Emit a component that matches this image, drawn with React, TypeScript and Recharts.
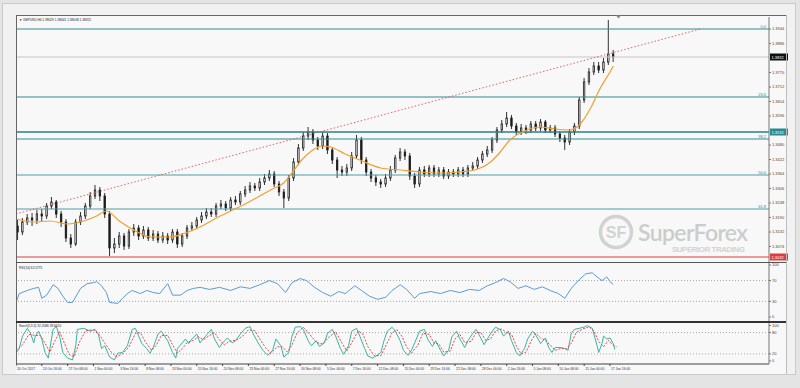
import React from 'react';
import { ComposedChart, Bar, Line, XAxis, YAxis, ReferenceLine } from 'recharts';

const FONT = '"Liberation Sans", Arial, sans-serif';

// H4 bar index of each date label on the time axis
const dateBars = [0, 16, 32, 48, 64, 80, 96, 112, 128, 144, 160, 176, 192, 208, 224, 240, 256, 272, 288, 304, 320, 336, 352, 368];
const dateLabels = [
  '20 Oct 2017', '24 Oct 16:00', '27 Oct 08:00', '1 Nov 00:00', '3 Nov 16:00', '8 Nov 08:00',
  '13 Nov 00:00', '15 Nov 16:00', '20 Nov 08:00', '23 Nov 00:00', '27 Nov 16:00', '30 Nov 08:00',
  '5 Dec 00:00', '7 Dec 16:00', '12 Dec 08:00', '15 Dec 00:00', '19 Dec 16:00', '22 Dec 08:00',
  '28 Dec 00:00', '2 Jan 16:00', '5 Jan 08:00', '10 Jan 08:00', '15 Jan 00:00', '17 Jan 16:00',
];

// each candle covers 3 H4 bars
const CANDLE_STEP = 3;

const opens = [
  1.3156, 1.3132, 1.3172, 1.3188, 1.3180, 1.3204, 1.3196, 1.3236, 1.3252, 1.3204,
  1.3172, 1.3108, 1.3084, 1.3172, 1.3196, 1.3236, 1.3276, 1.3300, 1.3276, 1.3204,
  1.3068, 1.3084, 1.3116, 1.3076, 1.3132, 1.3148, 1.3116, 1.3140, 1.3108, 1.3124,
  1.3100, 1.3116, 1.3100, 1.3132, 1.3084, 1.3116, 1.3148, 1.3156, 1.3180, 1.3196,
  1.3212, 1.3204, 1.3236, 1.3244, 1.3228, 1.3260, 1.3252, 1.3284, 1.3300, 1.3316,
  1.3308, 1.3332, 1.3348, 1.3364, 1.3324, 1.3292, 1.3268, 1.3348, 1.3412, 1.3468,
  1.3516, 1.3532, 1.3500, 1.3476, 1.3516, 1.3460, 1.3420, 1.3380, 1.3372, 1.3388,
  1.3436, 1.3500, 1.3420, 1.3372, 1.3348, 1.3332, 1.3324, 1.3348, 1.3380, 1.3428,
  1.3452, 1.3436, 1.3356, 1.3324, 1.3380, 1.3364, 1.3388, 1.3364, 1.3380, 1.3356,
  1.3372, 1.3364, 1.3380, 1.3364, 1.3388, 1.3396, 1.3420, 1.3444, 1.3460, 1.3500,
  1.3540, 1.3564, 1.3588, 1.3556, 1.3532, 1.3548, 1.3540, 1.3564, 1.3548, 1.3572,
  1.3540, 1.3548, 1.3524, 1.3508, 1.3492, 1.3532, 1.3556, 1.3660, 1.3732, 1.3772,
  1.3796, 1.3780, 1.3812, 1.3844,
];
const highs = [
  1.3180, 1.3188, 1.3204, 1.3208, 1.3220, 1.3224, 1.3248, 1.3272, 1.3260, 1.3216,
  1.3184, 1.3124, 1.3184, 1.3212, 1.3248, 1.3292, 1.3320, 1.3312, 1.3288, 1.3216,
  1.3108, 1.3132, 1.3128, 1.3144, 1.3164, 1.3160, 1.3156, 1.3152, 1.3140, 1.3136,
  1.3132, 1.3128, 1.3144, 1.3144, 1.3128, 1.3160, 1.3172, 1.3192, 1.3212, 1.3228,
  1.3228, 1.3248, 1.3260, 1.3256, 1.3272, 1.3276, 1.3296, 1.3316, 1.3332, 1.3328,
  1.3348, 1.3364, 1.3380, 1.3376, 1.3336, 1.3304, 1.3360, 1.3428, 1.3484, 1.3532,
  1.3552, 1.3544, 1.3512, 1.3532, 1.3528, 1.3472, 1.3432, 1.3396, 1.3404, 1.3452,
  1.3520, 1.3512, 1.3432, 1.3384, 1.3360, 1.3344, 1.3364, 1.3396, 1.3440, 1.3468,
  1.3464, 1.3448, 1.3368, 1.3392, 1.3396, 1.3400, 1.3400, 1.3392, 1.3392, 1.3384,
  1.3384, 1.3392, 1.3392, 1.3400, 1.3412, 1.3432, 1.3456, 1.3476, 1.3512, 1.3552,
  1.3580, 1.3612, 1.3600, 1.3568, 1.3564, 1.3560, 1.3576, 1.3576, 1.3584, 1.3580,
  1.3560, 1.3560, 1.3536, 1.3520, 1.3544, 1.3568, 1.3672, 1.3748, 1.3788, 1.3812,
  1.3812, 1.3828, 1.3980, 1.3860,
];
const lows = [
  1.3100, 1.3120, 1.3160, 1.3156, 1.3164, 1.3172, 1.3184, 1.3224, 1.3188, 1.3152,
  1.3092, 1.3068, 1.3076, 1.3160, 1.3184, 1.3224, 1.3264, 1.3256, 1.3188, 1.3036,
  1.3048, 1.3068, 1.3060, 1.3064, 1.3116, 1.3100, 1.3104, 1.3096, 1.3096, 1.3088,
  1.3088, 1.3084, 1.3088, 1.3068, 1.3072, 1.3104, 1.3136, 1.3144, 1.3168, 1.3184,
  1.3192, 1.3192, 1.3224, 1.3216, 1.3216, 1.3240, 1.3240, 1.3272, 1.3288, 1.3296,
  1.3296, 1.3320, 1.3336, 1.3312, 1.3276, 1.3228, 1.3256, 1.3336, 1.3400, 1.3456,
  1.3500, 1.3484, 1.3460, 1.3464, 1.3444, 1.3404, 1.3348, 1.3356, 1.3356, 1.3376,
  1.3424, 1.3404, 1.3356, 1.3332, 1.3316, 1.3308, 1.3312, 1.3336, 1.3368, 1.3416,
  1.3420, 1.3340, 1.3308, 1.3312, 1.3352, 1.3352, 1.3352, 1.3352, 1.3344, 1.3344,
  1.3352, 1.3352, 1.3352, 1.3352, 1.3376, 1.3384, 1.3408, 1.3432, 1.3448, 1.3488,
  1.3528, 1.3552, 1.3544, 1.3520, 1.3520, 1.3524, 1.3528, 1.3536, 1.3536, 1.3528,
  1.3528, 1.3512, 1.3492, 1.3460, 1.3480, 1.3520, 1.3544, 1.3648, 1.3720, 1.3760,
  1.3768, 1.3768, 1.3800, 1.3812,
];
const closes = [
  1.3132, 1.3172, 1.3188, 1.3180, 1.3204, 1.3196, 1.3236, 1.3252, 1.3204, 1.3172,
  1.3108, 1.3084, 1.3172, 1.3196, 1.3236, 1.3276, 1.3300, 1.3276, 1.3204, 1.3068,
  1.3084, 1.3116, 1.3076, 1.3132, 1.3148, 1.3116, 1.3140, 1.3108, 1.3124, 1.3100,
  1.3116, 1.3100, 1.3132, 1.3084, 1.3116, 1.3148, 1.3156, 1.3180, 1.3196, 1.3212,
  1.3204, 1.3236, 1.3244, 1.3228, 1.3260, 1.3252, 1.3284, 1.3300, 1.3316, 1.3308,
  1.3332, 1.3348, 1.3364, 1.3324, 1.3292, 1.3268, 1.3348, 1.3412, 1.3468, 1.3516,
  1.3532, 1.3500, 1.3476, 1.3516, 1.3460, 1.3420, 1.3380, 1.3372, 1.3388, 1.3436,
  1.3500, 1.3420, 1.3372, 1.3348, 1.3332, 1.3324, 1.3348, 1.3380, 1.3428, 1.3452,
  1.3436, 1.3356, 1.3324, 1.3380, 1.3364, 1.3388, 1.3364, 1.3380, 1.3356, 1.3372,
  1.3364, 1.3380, 1.3364, 1.3388, 1.3396, 1.3420, 1.3444, 1.3460, 1.3500, 1.3540,
  1.3564, 1.3588, 1.3556, 1.3532, 1.3548, 1.3540, 1.3564, 1.3548, 1.3572, 1.3540,
  1.3548, 1.3524, 1.3508, 1.3492, 1.3532, 1.3556, 1.3660, 1.3732, 1.3772, 1.3796,
  1.3780, 1.3812, 1.3844, 1.3832,
];

// moving average [bar, price]
const maPoints = [
  [0, 1.3184], [11, 1.3172], [21, 1.3176], [32, 1.3164], [42, 1.3176], [50, 1.3196], [56, 1.3216],
  [64, 1.3176], [74, 1.3136], [83, 1.3112], [95, 1.3112], [105, 1.3128], [114, 1.3152], [123, 1.3184],
  [133, 1.3216], [142, 1.3244], [151, 1.3276], [159, 1.3304], [165, 1.3324], [171, 1.3368], [177, 1.3420],
  [183, 1.3456], [190, 1.3476], [195, 1.3472], [204, 1.3444], [213, 1.3420], [226, 1.3388], [238, 1.3380],
  [250, 1.3372], [263, 1.3368], [275, 1.3372], [284, 1.3380], [294, 1.3412], [300, 1.3452], [306, 1.3500],
  [315, 1.3536], [325, 1.3552], [334, 1.3544], [343, 1.3540], [349, 1.3560], [356, 1.3628], [362, 1.3708],
  [368, 1.3772], [370, 1.3796],
];

const trendPoints = [[0, 1.3204], [424, 1.3944]];

const priceTicks = [1.3074, 1.3132, 1.3190, 1.3248, 1.3306, 1.3364, 1.3422, 1.3480, 1.3596, 1.3654, 1.3712, 1.3770, 1.3886, 1.3944];
const fibLevels = [1.3944, 1.3672, 1.3504, 1.3360, 1.3224];
const fibNames = ['0.0', '23.6', '38.2', '50.0', '61.8'];
const hLine = 1.3532;
const bidLine = 1.3832;
const redLine = 1.3032;

// RSI(14) [bar, value]
const rsiPoints = [
  [0, 28], [2, 45], [7, 51], [11, 55], [14, 57], [16, 36], [19, 42], [23, 62], [26, 55], [29, 40],
  [32, 28], [35, 28], [40, 55], [44, 64], [48, 66], [50, 68], [53, 60], [56, 47], [58, 28], [63, 26],
  [66, 36], [69, 45], [72, 51], [77, 45], [81, 51], [85, 47], [89, 45], [94, 64], [97, 42], [102, 42],
  [106, 51], [110, 55], [114, 57], [120, 53], [126, 57], [133, 51], [139, 58], [145, 55], [151, 62], [157, 70],
  [162, 64], [167, 47], [171, 66], [176, 74], [180, 70], [185, 57], [190, 47], [195, 40], [200, 49], [204, 45],
  [210, 60], [214, 51], [219, 40], [224, 34], [229, 38], [233, 51], [238, 62], [242, 53], [247, 36], [250, 45],
  [257, 49], [263, 45], [269, 51], [275, 47], [281, 53], [287, 51], [292, 60], [297, 66], [302, 74], [306, 68],
  [311, 55], [316, 60], [321, 53], [326, 58], [331, 51], [336, 45], [340, 36], [344, 55], [349, 72], [353, 83],
  [357, 85], [360, 77], [363, 70], [366, 77], [368, 68], [370, 63],
];
const rsiTicks = [0, 30, 70, 100];
const rsiLevels = [30, 70];

// Stochastic(5,3,3) main and signal [bar, value]
const stochMain = [
  [0, 22], [2, 35], [4, 70], [7, 92], [9, 78], [11, 51], [12, 70], [14, 84], [16, 62], [18, 24], [20, 8], [21, 35],
  [23, 89], [25, 97], [27, 70], [29, 24], [32, 8], [35, 3], [37, 43], [38, 89], [42, 92], [46, 84], [49, 89], [51, 76],
  [53, 35], [55, 43], [58, 11], [61, 3], [63, 22], [66, 24], [69, 43], [72, 89], [74, 92], [76, 70], [78, 49], [81, 35],
  [83, 22], [85, 38], [88, 76], [90, 84], [94, 57], [97, 24], [99, 8], [100, 35], [103, 51], [105, 62], [107, 49], [109, 62],
  [112, 76], [114, 51], [116, 62], [119, 78], [121, 89], [123, 62], [126, 38], [128, 51], [131, 65], [134, 51], [136, 57],
  [139, 76], [142, 92], [145, 97], [147, 76], [150, 51], [153, 30], [156, 16], [159, 30], [161, 62], [164, 43], [166, 11],
  [169, 24], [171, 70], [173, 95], [176, 97], [178, 89], [181, 57], [183, 43], [186, 57], [188, 41], [191, 51], [193, 78],
  [196, 89], [198, 70], [201, 35], [203, 19], [206, 43], [208, 84], [211, 92], [213, 70], [216, 35], [218, 14], [221, 8],
  [223, 14], [226, 24], [228, 57], [230, 84], [233, 95], [235, 84], [238, 57], [240, 30], [243, 16], [245, 30], [248, 62],
  [250, 84], [253, 89], [255, 62], [258, 41], [260, 57], [263, 30], [265, 14], [268, 30], [270, 68], [273, 84], [275, 62],
  [278, 38], [280, 57], [283, 78], [285, 89], [287, 73], [290, 46], [292, 62], [295, 84], [297, 95], [300, 89], [302, 70],
  [305, 84], [307, 57], [310, 24], [312, 14], [315, 35], [317, 62], [320, 84], [322, 73], [325, 49], [328, 65], [330, 38],
  [332, 24], [334, 38], [337, 38], [340, 35], [342, 30], [344, 78], [346, 89], [349, 92], [353, 97], [354, 100], [357, 92],
  [358, 76], [360, 43], [361, 24], [363, 49], [364, 70], [366, 62], [368, 65], [370, 49], [371, 32],
];
const stochSignal = [
  [0, 30], [4, 45], [8, 75], [12, 72], [15, 72], [18, 50], [21, 25], [24, 55], [27, 82], [30, 50], [33, 18], [36, 12],
  [39, 50], [43, 85], [48, 88], [52, 72], [55, 50], [59, 25], [62, 12], [66, 20], [70, 40], [74, 78], [77, 80], [80, 55],
  [84, 30], [87, 45], [90, 72], [94, 72], [97, 45], [100, 22], [103, 35], [106, 52], [110, 58], [113, 68], [116, 60],
  [120, 72], [123, 80], [126, 60], [129, 45], [132, 55], [136, 58], [140, 68], [144, 88], [148, 85], [151, 62], [155, 35],
  [158, 22], [162, 40], [165, 40], [168, 25], [171, 45], [174, 78], [178, 95], [182, 75], [186, 52], [190, 48], [194, 68],
  [198, 82], [202, 50], [205, 28], [209, 60], [212, 85], [215, 75], [218, 40], [222, 15], [226, 15], [229, 42], [233, 80],
  [236, 88], [239, 70], [242, 40], [245, 22], [249, 45], [252, 78], [256, 75], [259, 50], [262, 48], [265, 25], [269, 28],
  [272, 62], [275, 75], [278, 52], [282, 55], [285, 80], [288, 80], [291, 58], [294, 62], [297, 85], [301, 90], [304, 80],
  [307, 75], [310, 42], [313, 20], [316, 25], [319, 55], [322, 78], [325, 65], [328, 58], [331, 45], [334, 30], [338, 36],
  [341, 34], [344, 50], [347, 80], [351, 90], [355, 96], [358, 85], [361, 55], [364, 40], [367, 58], [370, 45], [372, 40],
];
const stochTicks = [0, 20, 80, 100];
const stochLevels = [20, 80];

const candles = opens.map((open, i) => ({
  bar: i * CANDLE_STEP + 1,
  open,
  high: highs[i],
  low: lows[i],
  close: closes[i],
}));
const toRows = (pts) => pts.map(([bar, value]) => ({ bar, value }));
const maData = toRows(maPoints);
const trendData = toRows(trendPoints);
const rsiData = toRows(rsiPoints);
const stochMainData = toRows(stochMain);
const stochSignalData = toRows(stochSignal);

const X_DOMAIN = [0, 466.5];
const TICK = { fontSize: 4, fill: '#444' };

const Candle = (props) => {
  const { x, y, width, height, payload } = props;
  if (x == null || !payload) return null;
  const { open, close, high, low } = payload;
  const k = high > low ? height / (high - low) : 0;
  const yo = y + (high - open) * k;
  const yc = y + (high - close) * k;
  const top = Math.min(yo, yc);
  const h = Math.max(Math.abs(yo - yc), 1);
  const cx = x + width / 2;
  const up = close >= open;
  return (
    <g>
      <line x1={cx} x2={cx} y1={y} y2={y + height} stroke="#1c1c1c" strokeWidth={0.9} />
      <rect x={x} y={top} width={width} height={h} fill={up ? '#f4f4f4' : '#1c1c1c'} stroke="#1c1c1c" strokeWidth={0.8} />
    </g>
  );
};

const AxisTag = (props) => {
  const { viewBox, text, bg } = props;
  if (!viewBox) return null;
  const x = viewBox.x + viewBox.width;
  const y = viewBox.y;
  return (
    <g>
      <rect x={x + 1} y={y - 3.5} width={18} height={7} fill={bg} />
      <text x={x + 2.5} y={y + 1.5} fontSize={4} fill="#fff">{text}</text>
    </g>
  );
};

const FibTag = (props) => {
  const { viewBox, text } = props;
  if (!viewBox) return null;
  return (
    <text x={viewBox.x + viewBox.width - 3} y={viewBox.y - 1.5} textAnchor="end" fontSize={4} fill="#2e8a8f">
      {text}
    </text>
  );
};

const DateTick = (props) => {
  const { x, y, payload } = props;
  const i = dateBars.indexOf(payload.value);
  return (
    <text x={x + 1} y={y + 2.5} fontSize={3.3} fill="#333" textAnchor="start">
      {dateLabels[i]}
    </text>
  );
};

const noMargin = { top: 0, right: 0, bottom: 0, left: 0 };
const padTop = { top: 3, right: 0, bottom: 0, left: 0 };

const App = () => {
  return (
    <div style={{ position: 'absolute', left: 0, top: 0, width: 800, height: 388, background: '#e4e4e4', overflow: 'hidden', fontFamily: FONT }}>
      <div style={{ position: 'absolute', left: 2, top: 3, width: 794, height: 372, background: '#f1f1f1', border: '1px solid #cacaca', boxSizing: 'border-box' }} />
      <div style={{ position: 'absolute', left: 16, top: 15, width: 770, height: 359, background: '#f8f8f8' }} />

      <svg width={800} height={388} style={{ position: 'absolute', left: 0, top: 0 }}>
        <circle cx={616} cy={232} r={15.5} fill="none" stroke="#d2d2d2" strokeWidth={3.5} />
        <text x={616} y={238} textAnchor="middle" fontSize={16} fontWeight={700} fill="#d2d2d2">SF</text>
        <text x={638} y={241} fontSize={23} fontWeight={600} fill="#cccccc" fontFamily="Lato, 'Open Sans', sans-serif" textLength={110}>SuperForex</text>
        <text x={672} y={251.5} fontSize={8} fontWeight={700} fill="#d3d3d3" textLength={73}>SUPERIOR TRADING</text>
      </svg>

      <div style={{ position: 'absolute', left: 16, top: 17 }}>
        <ComposedChart width={774} height={245} data={candles} margin={noMargin}>
          <XAxis type="number" dataKey="bar" domain={X_DOMAIN} allowDataOverflow hide />
          <YAxis
            orientation="right"
            domain={[1.3012, 1.3992]}
            allowDataOverflow
            ticks={priceTicks}
            interval={0}
            width={21}
            tickSize={2}
            tickMargin={1}
            tickFormatter={(v) => v.toFixed(4)}
            tick={TICK}
            axisLine={{ stroke: '#777' }}
            tickLine={{ stroke: '#777' }}
          />
          {fibLevels.map((lv, i) => (
            <ReferenceLine key={lv} y={lv} stroke={i < 3 ? '#2e8a8f' : '#4a9ea6'} strokeWidth={1.2} label={<FibTag text={fibNames[i]} />} />
          ))}
          <ReferenceLine y={hLine} stroke="#2a8086" strokeWidth={1.4} label={<AxisTag text={hLine.toFixed(4)} bg="#2a8a8f" />} />
          <ReferenceLine y={bidLine} stroke="#c6c6c6" strokeWidth={1} label={<AxisTag text={bidLine.toFixed(4)} bg="#111" />} />
          <ReferenceLine y={redLine} stroke="#e03c3c" strokeWidth={1.2} label={<AxisTag text={redLine.toFixed(4)} bg="#e03c3c" />} />
          <Line data={trendData} dataKey="value" stroke="#d9534f" strokeWidth={0.9} strokeDasharray="1.5 2" dot={false} isAnimationActive={false} />
          <Bar dataKey={(d) => [d.low, d.high]} barSize={3} shape={<Candle />} isAnimationActive={false} />
          <Line data={maData} dataKey="value" type="monotone" stroke="#f0a030" strokeWidth={1.2} dot={false} isAnimationActive={false} />
        </ComposedChart>
      </div>

      <div style={{ position: 'absolute', left: 16, top: 260 }}>
        <ComposedChart width={774} height={61} data={rsiData} margin={padTop}>
          <XAxis type="number" dataKey="bar" domain={X_DOMAIN} allowDataOverflow hide />
          <YAxis
            orientation="right"
            domain={[-7.7, 103.8]}
            allowDataOverflow
            ticks={rsiTicks}
            interval={0}
            width={21}
            tickSize={2}
            tickMargin={1}
            tick={TICK}
            axisLine={{ stroke: '#777' }}
            tickLine={{ stroke: '#777' }}
          />
          {rsiLevels.map((lv) => (
            <ReferenceLine key={lv} y={lv} stroke="#a8a8a8" strokeDasharray="1 2" />
          ))}
          <Line dataKey="value" stroke="#5b9bd5" strokeWidth={1} dot={false} isAnimationActive={false} />
        </ComposedChart>
      </div>

      <div style={{ position: 'absolute', left: 16, top: 320 }}>
        <ComposedChart width={774} height={54} data={stochMainData} margin={padTop}>
          <XAxis
            type="number"
            dataKey="bar"
            domain={X_DOMAIN}
            allowDataOverflow
            ticks={dateBars}
            interval={0}
            height={10}
            tickSize={2}
            tickMargin={1}
            tick={<DateTick />}
            axisLine={{ stroke: '#444' }}
            tickLine={{ stroke: '#444' }}
          />
          <YAxis
            orientation="right"
            domain={[-8.5, 107]}
            allowDataOverflow
            ticks={stochTicks}
            interval={0}
            width={21}
            tickSize={2}
            tickMargin={1}
            tick={TICK}
            axisLine={{ stroke: '#777' }}
            tickLine={{ stroke: '#777' }}
          />
          {stochLevels.map((lv) => (
            <ReferenceLine key={lv} y={lv} stroke="#a8a8a8" strokeDasharray="1 2" />
          ))}
          <Line dataKey="value" stroke="#3cb3a3" strokeWidth={1} dot={false} isAnimationActive={false} />
          <Line data={stochSignalData} dataKey="value" stroke="#e04848" strokeWidth={1} strokeDasharray="2 1.5" dot={false} isAnimationActive={false} />
        </ComposedChart>
      </div>

      <svg width={800} height={388} style={{ position: 'absolute', left: 0, top: 0, pointerEvents: 'none' }}>
        <line x1={16} y1={15.5} x2={786} y2={15.5} stroke="#666" />
        <line x1={16.5} y1={15} x2={16.5} y2={365} stroke="#666" />
        <line x1={16} y1={262.5} x2={786} y2={262.5} stroke="#555" />
        <rect x={16} y={321} width={770} height={2} fill="#333" />
        <line x1={786.5} y1={15} x2={786.5} y2={374} stroke="#bdbdbd" />
        <polygon points="616,15.5 621,15.5 618.5,18.5" fill="#888" />
        <text x={19} y={21} fontSize={3.2} fill="#222">▼ GBPUSD,H4  1.38029 1.38441 1.38008 1.38322</text>
        <text x={19} y={269} fontSize={3.2} fill="#222">RSI(14) 62.5775</text>
        <text x={19} y={327} fontSize={3.2} fill="#222">Stoch(5,3,3) 32.2086 39.6410</text>
      </svg>
    </div>
  );
};

export default App;
